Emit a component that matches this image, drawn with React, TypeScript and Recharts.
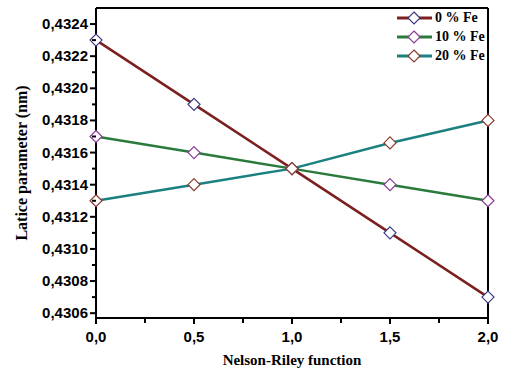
import React from "react";
import {
  LineChart, Line, XAxis, YAxis, ReferenceLine,
} from "recharts";

const nelsonRiley = [0, 0.5, 1, 1.5, 2];
const fe0 = [0.4323, 0.4319, 0.4315, 0.4311, 0.4307];
const fe10 = [0.4317, 0.4316, 0.4315, 0.4314, 0.4313];
const fe20 = [0.4313, 0.4314, 0.4315, 0.43166, 0.4318];

const xTicks = [0, 0.25, 0.5, 0.75, 1, 1.25, 1.5, 1.75, 2];
const yTicks = [
  0.4306, 0.4307, 0.4308, 0.4309, 0.431, 0.4311, 0.4312, 0.4313, 0.4314, 0.4315,
  0.4316, 0.4317, 0.4318, 0.4319, 0.432, 0.4321, 0.4322, 0.4323, 0.4324,
];
const xDomain = [0, 2];
const yDomain = [0.43057, 0.4325];

const series = [
  { key: "fe0", name: "0 % Fe", line: "#7b1f1f", marker: "#3a3a86" },
  { key: "fe10", name: "10 % Fe", line: "#2a7a3c", marker: "#8a3c96" },
  { key: "fe20", name: "20 % Fe", line: "#1b8080", marker: "#8a3a2c" },
];

const data = nelsonRiley.map((x, i) => ({ x, fe0: fe0[i], fe10: fe10[i], fe20: fe20[i] }));

const tickFont = { fontFamily: "Liberation Sans, Arial, sans-serif", fontSize: 15, fontWeight: 700 };
const titleFont = { fontFamily: "Liberation Serif, Times New Roman, serif", fontWeight: 700 };

const Diamond = ({ cx, cy, color }: any) => {
  if (cx == null || cy == null) return null;
  const r = 6;
  return (
    <polygon
      points={`${cx},${cy - r} ${cx + r},${cy} ${cx},${cy + r} ${cx - r},${cy}`}
      fill="#fff"
      stroke={color}
      strokeWidth={1.2}
    />
  );
};

const YTick = ({ x, y, payload }: any) => {
  const v = payload.value;
  const major = Math.round(v * 10000) % 2 === 0;
  return (
    <g>
      <line x1={x} x2={x - (major ? 6 : 4)} y1={y} y2={y} stroke="#000" strokeWidth={2} />
      {major && (
        <text x={x - 8} y={y} dy={5} textAnchor="end" {...tickFont} fill="#000">
          {v.toFixed(4).replace(".", ",")}
        </text>
      )}
    </g>
  );
};

const XTick = ({ x, y, payload }: any) => {
  const v = payload.value;
  const major = Math.round(v * 100) % 50 === 0;
  return (
    <g>
      <line x1={x} x2={x} y1={y} y2={y + (major ? 6 : 5)} stroke="#000" strokeWidth={2} />
      {major && (
        <text x={x} y={y + 24} textAnchor="middle" {...tickFont} fill="#000">
          {v.toFixed(1).replace(".", ",")}
        </text>
      )}
    </g>
  );
};

const YLabel = ({ viewBox }: any) => {
  const cx = viewBox.x + 6;
  const cy = viewBox.y + viewBox.height / 2;
  return (
    <text x={cx} y={cy} dy={5} transform={`rotate(-90 ${cx} ${cy})`} textAnchor="middle" {...titleFont} fontSize={16} fill="#000">
      Latice parameter (nm)
    </text>
  );
};

const XLabel = ({ viewBox }: any) => {
  const cx = viewBox.x + viewBox.width / 2;
  return (
    <text x={cx} y={viewBox.y + viewBox.height + 17} textAnchor="middle" {...titleFont} fontSize={15} fill="#000">
      Nelson-Riley function
    </text>
  );
};

const LegendBox = () => (
  <div style={{ ...titleFont, fontSize: 14, position: "absolute", left: 397, top: 8 }}>
    {series.map((s) => (
      <div key={s.key} style={{ display: "flex", alignItems: "center", height: 19 }}>
        <svg width={36} height={14} style={{ display: "block" }}>
          <line x1={0} x2={35} y1={7} y2={7} stroke={s.line} strokeWidth={3} />
          <Diamond cx={17} cy={7} color={s.marker} />
        </svg>
        <span style={{ marginLeft: 2, color: "#000" }}>{s.name}</span>
      </div>
    ))}
  </div>
);

export default function App() {
  return (
    <div style={{ position: "absolute", left: 0, top: 0, width: 521, height: 370, background: "#fff" }}>
      <LineChart width={521} height={370} data={data} margin={{ top: 8, right: 33, left: 16, bottom: 22 }}>
        <XAxis
          dataKey="x"
          type="number"
          domain={xDomain}
          ticks={xTicks}
          interval={0}
          tickSize={0}
          tickMargin={0}
          tick={<XTick />}
          height={30}
          axisLine={{ stroke: "#000", strokeWidth: 2 }}
          label={<XLabel />}
        />
        <YAxis
          type="number"
          domain={yDomain}
          ticks={yTicks}
          interval={0}
          allowDataOverflow
          tickSize={0}
          tickMargin={0}
          tick={<YTick />}
          width={80}
          axisLine={{ stroke: "#000", strokeWidth: 2 }}
          label={<YLabel />}
        />
        <ReferenceLine y={yDomain[1]} stroke="#000" strokeWidth={2} />
        <ReferenceLine x={xDomain[1]} stroke="#000" strokeWidth={2} />
        {series.map((s) => (
          <Line
            key={s.key}
            dataKey={s.key}
            name={s.name}
            stroke={s.line}
            strokeWidth={2.5}
            isAnimationActive={false}
            dot={(p: any) => <Diamond key={p.index} cx={p.cx} cy={p.cy} color={s.marker} />}
            activeDot={false}
          />
        ))}
      </LineChart>
      <LegendBox />
    </div>
  );
}
